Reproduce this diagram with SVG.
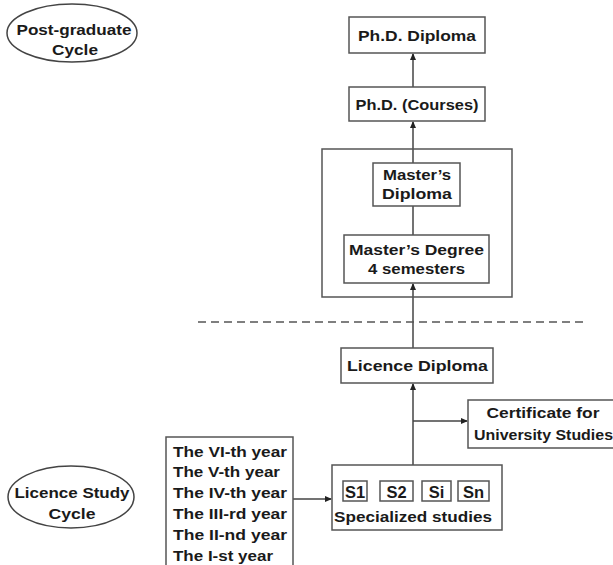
<svg xmlns="http://www.w3.org/2000/svg" width="613" height="565" viewBox="0 0 613 565">
<defs>
<marker id="ah" markerWidth="7" markerHeight="6" refX="6" refY="3" orient="auto" markerUnits="userSpaceOnUse">
<path d="M0,0 L7,3 L0,6 z" fill="#222"/>
</marker>
<style>
.box{fill:#fff;stroke:#555;stroke-width:1.5}
.t{font-family:"Liberation Sans",Arial,sans-serif;font-weight:bold;font-size:15.5px;fill:#1a1a1a}
.s{font-size:16.5px}
.c{text-anchor:middle}
.ln{stroke:#444;stroke-width:1.5;fill:none}
</style>
</defs>
<rect width="613" height="565" fill="#fff"/>
<g id="connectors">
<line class="ln" x1="413" y1="87" x2="413" y2="54" marker-end="url(#ah)"/>
<line class="ln" x1="413" y1="163" x2="413" y2="122" marker-end="url(#ah)"/>
<line class="ln" x1="413" y1="206" x2="413" y2="235"/>
<line class="ln" x1="413" y1="348" x2="413" y2="284" marker-end="url(#ah)"/>
<line class="ln" x1="413" y1="465" x2="413" y2="384" marker-end="url(#ah)"/>
<line class="ln" x1="413" y1="421" x2="467" y2="421" marker-end="url(#ah)"/>
<line class="ln" x1="293" y1="499" x2="331" y2="499" marker-end="url(#ah)"/>
<line x1="198" y1="322" x2="585" y2="322" stroke="#555" stroke-width="1.5" stroke-dasharray="8,5"/>
</g>
<g id="postgraduate-cycle">
<ellipse cx="72" cy="33" rx="65" ry="29" fill="#fff" stroke="#444" stroke-width="1.5"/>
<text class="t c" x="74" y="35" textLength="115" lengthAdjust="spacingAndGlyphs">Post-graduate</text>
<text class="t c" x="75" y="55" textLength="46" lengthAdjust="spacingAndGlyphs">Cycle</text>
</g>
<g id="phd-diploma">
<rect class="box" x="349" y="17" width="136" height="36"/>
<text class="t c" x="417" y="41" textLength="118" lengthAdjust="spacingAndGlyphs">Ph.D. Diploma</text>
</g>
<g id="phd-courses">
<rect class="box" x="349" y="87" width="136" height="34"/>
<text class="t c" x="417" y="110" textLength="123" lengthAdjust="spacingAndGlyphs">Ph.D. (Courses)</text>
</g>
<g id="master-cycle">
<rect x="322" y="149" width="190" height="148" fill="none" stroke="#555" stroke-width="1.5"/>
</g>
<g id="masters-diploma">
<rect class="box" x="373" y="163" width="87" height="43"/>
<text class="t c" x="417" y="180" textLength="68" lengthAdjust="spacingAndGlyphs">Master’s</text>
<text class="t c" x="417" y="199" textLength="70" lengthAdjust="spacingAndGlyphs">Diploma</text>
</g>
<g id="masters-degree">
<rect class="box" x="344" y="235" width="145" height="48"/>
<text class="t c" x="416.5" y="255" textLength="135" lengthAdjust="spacingAndGlyphs">Master’s Degree</text>
<text class="t c" x="416.5" y="274" textLength="97" lengthAdjust="spacingAndGlyphs">4 semesters</text>
</g>
<g id="licence-diploma">
<rect class="box" x="341" y="348" width="152" height="35"/>
<text class="t c" x="417.5" y="371" textLength="141" lengthAdjust="spacingAndGlyphs">Licence Diploma</text>
</g>
<g id="certificate">
<rect class="box" x="468" y="400" width="170" height="48"/>
<text class="t c" x="543" y="418" textLength="113" lengthAdjust="spacingAndGlyphs">Certificate for</text>
<text class="t c" x="543.5" y="440" textLength="139" lengthAdjust="spacingAndGlyphs">University Studies</text>
</g>
<g id="specialized-studies">
<rect class="box" x="332" y="465" width="170" height="65"/>
<rect class="box" x="343" y="481" width="24" height="20"/>
<rect class="box" x="380" y="481" width="33" height="20"/>
<rect class="box" x="422" y="481" width="29" height="20"/>
<rect class="box" x="458" y="481" width="31" height="20"/>
<text class="t s c" x="355" y="497.5">S1</text>
<text class="t s c" x="396.5" y="497.5">S2</text>
<text class="t s c" x="436.5" y="497.5">Si</text>
<text class="t s c" x="473.5" y="497.5">Sn</text>
<text class="t c" x="413" y="522" textLength="158" lengthAdjust="spacingAndGlyphs">Specialized studies</text>
</g>
<g id="years">
<rect class="box" x="166" y="437" width="127" height="140"/>
<text class="t" x="173" y="457" textLength="114" lengthAdjust="spacingAndGlyphs">The VI-th year</text>
<text class="t" x="173" y="477" textLength="107" lengthAdjust="spacingAndGlyphs">The V-th year</text>
<text class="t" x="173" y="498" textLength="114" lengthAdjust="spacingAndGlyphs">The IV-th year</text>
<text class="t" x="173" y="519" textLength="114" lengthAdjust="spacingAndGlyphs">The III-rd year</text>
<text class="t" x="173" y="540" textLength="114" lengthAdjust="spacingAndGlyphs">The II-nd year</text>
<text class="t" x="173" y="561" textLength="100" lengthAdjust="spacingAndGlyphs">The I-st year</text>
</g>
<g id="licence-study-cycle">
<ellipse cx="71" cy="497" rx="63" ry="31" fill="#fff" stroke="#444" stroke-width="1.5"/>
<text class="t c" x="72" y="498" textLength="115" lengthAdjust="spacingAndGlyphs">Licence Study</text>
<text class="t c" x="72" y="519" textLength="47" lengthAdjust="spacingAndGlyphs">Cycle</text>
</g>
</svg>
